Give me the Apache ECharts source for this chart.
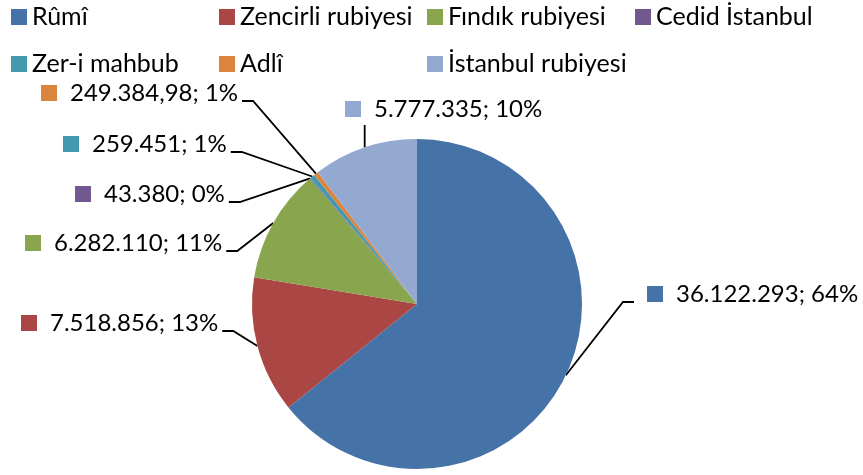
<!DOCTYPE html>
<html><head><meta charset="utf-8">
<script src="https://cdn.jsdelivr.net/npm/echarts@6/dist/echarts.min.js"></script>
<style>html,body{margin:0;padding:0;background:#fff}#c{width:863px;height:475px}</style>
</head><body><div id="c"></div>
<script>
const categories = ['Rûmî', 'Zencirli rubiyesi', 'Fındık rubiyesi', 'Cedid İstanbul', 'Zer-i mahbub', 'Adlî', 'İstanbul rubiyesi'];
const values = [36122293, 7518856, 6282110, 43380, 259451, 249384.98, 5777335];
const percentLabels = [64, 13, 11, 0, 1, 1, 10];
const colors = ['#4572A7', '#AA4643', '#89A54E', '#71588F', '#4198AF', '#DB843D', '#93A9CF'];

// label placement: left x of key square, vertical middle, leader side
const labelPlacement = [
  {x: 647, y: 294, side: 'left'},
  {x: 21, y: 323, side: 'right'},
  {x: 25, y: 243, side: 'right'},
  {x: 75, y: 194, side: 'right'},
  {x: 63, y: 144, side: 'right'},
  {x: 41, y: 93, side: 'right'},
  {x: 345, y: 109, side: 'bottom'}
];

const FONT = 'Lato';

function fmt(v) {
  const parts = String(v).split('.');
  const intPart = parts[0].replace(/\B(?=(\d{3})+(?!\d))/g, '.');
  return parts[1] ? intPart + ',' + parts[1] : intPart;
}

const rich = { t: { fontSize: 24, fontFamily: FONT, color: '#000', padding: [0, 0, 0, 13] } };
colors.forEach((c, i) => { rich['k' + i] = { width: 16, height: 16, backgroundColor: c }; });

const chart = echarts.init(document.getElementById('c'), null, { renderer: 'canvas' });
chart.setOption({
  animation: false,
  color: colors,
  legend: {
    left: 11, top: 0, padding: 0, width: 840,
    itemWidth: 16, itemHeight: 16, itemGap: 13,
    icon: 'rect',
    selectedMode: false,
    data: categories,
    textStyle: { fontSize: 25, fontFamily: FONT, color: '#000', lineHeight: 34, width: 174 }
  },
  series: [{
    type: 'pie',
    center: [417, 304],
    radius: 165,
    startAngle: 90,
    clockwise: true,
    avoidLabelOverlap: false,
    emphasis: { disabled: true },
    data: categories.map((n, i) => ({ name: n, value: values[i] })),
    label: {
      show: true,
      position: 'outside',
      formatter: (p) => '{k' + p.dataIndex + '|}{t|' + fmt(values[p.dataIndex]) + '; ' + percentLabels[p.dataIndex] + '%}',
      rich: rich
    },
    labelLine: { show: true, length: 10, length2: 10, lineStyle: { color: '#000', width: 1.8 } },
    labelLayout: function (params) {
      const i = params.dataIndex;
      const p = labelPlacement[i];
      const w = params.labelRect.width;
      const arc = (params.labelLinePoints && params.labelLinePoints[0]) || [p.x, p.y];
      let pts;
      if (p.side === 'left') {
        pts = [arc, [p.x - 24, p.y + 8], [p.x - 13, p.y + 8]];
      } else if (p.side === 'right') {
        const xe = p.x + w + 4;
        pts = [[xe, p.y + 8], [xe + 11, p.y + 8], arc];
      } else {
        pts = [[arc[0], p.y + 16], arc];
      }
      return { x: p.x, y: p.y, align: 'left', verticalAlign: 'middle', labelLinePoints: pts };
    }
  }]
});
</script>
</body></html>
